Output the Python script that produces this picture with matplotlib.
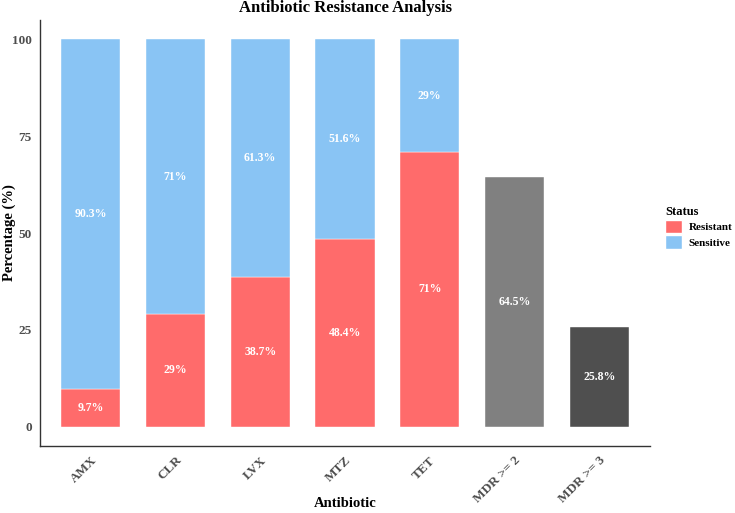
import numpy as np
import matplotlib.pyplot as plt
from matplotlib.patches import Patch

# chart data
antibiotics = ['AMX', 'CLR', 'LVX', 'MTZ', 'TET']
resistant = [9.7, 29.0, 38.7, 48.4, 71.0]
sensitive = [90.3, 71.0, 61.3, 51.6, 29.0]
mdr_labels = ['MDR >= 2', 'MDR >= 3']
mdr_values = [64.5, 25.8]

RES_COLOR = '#FF6B6B'
SEN_COLOR = '#89C4F4'
MDR_COLORS = ['#808080', '#4F4F4F']
TICK_GRAY = '#4D4D4D'

plt.rcParams['font.family'] = ['Liberation Serif', 'DejaVu Serif']
plt.rcParams['font.weight'] = 'bold'


def fmt(v):
    return f'{v:g}%'


def plot_chart():
    fig = plt.figure(figsize=(7.35, 5.13), dpi=100)
    ax = fig.add_axes([0.0544, 0.1306, 0.830, 0.8304])

    n = len(antibiotics)
    x = np.arange(n)
    width = 0.7

    ax.bar(x, resistant, width, color=RES_COLOR, edgecolor='white', linewidth=0.3)
    ax.bar(x, sensitive, width, bottom=resistant, color=SEN_COLOR, edgecolor='white', linewidth=0.3)
    for xi, r, s in zip(x, resistant, sensitive):
        ax.text(xi, r / 2, fmt(r), ha='center', va='center', color='white', fontsize=8.5, fontweight='bold')
        ax.text(xi, r + s / 2, fmt(s), ha='center', va='center', color='white', fontsize=8.5, fontweight='bold')

    xm = np.arange(n, n + len(mdr_values))
    ax.bar(xm, mdr_values, width, color=MDR_COLORS, edgecolor='white', linewidth=0.3)
    for xi, v in zip(xm, mdr_values):
        ax.text(xi, v / 2, fmt(v), ha='center', va='center', color='white', fontsize=8.5, fontweight='bold')

    ax.set_xlim(-0.6, n + len(mdr_values) - 0.4)
    ax.set_ylim(-5, 105)
    ax.set_yticks([0, 25, 50, 75, 100])
    ax.set_xticks(list(x) + list(xm))
    ax.set_xticklabels(antibiotics + mdr_labels, rotation=45, ha='right', rotation_mode='anchor')
    ax.tick_params(axis='both', length=0, colors=TICK_GRAY, labelsize=9.5)
    ax.tick_params(axis='x', pad=6)
    ax.tick_params(axis='y', pad=6)

    for side in ['top', 'right']:
        ax.spines[side].set_visible(False)
    for side in ['left', 'bottom']:
        ax.spines[side].set_color('#333333')
        ax.spines[side].set_linewidth(1.0)

    # axis titles placed in figure coordinates so they stay inside the canvas
    fig.text(0.0544 + 0.830 / 2, 0.018, 'Antibiotic', ha='center', va='center',
             fontsize=10.5, fontweight='bold')
    fig.text(0.012, 0.1306 + 0.8304 / 2, 'Percentage (%)', ha='center', va='center',
             rotation=90, fontsize=10.5, fontweight='bold')
    ax.set_title('Antibiotic Resistance Analysis', fontsize=12, fontweight='bold', pad=6)

    handles = [Patch(facecolor=RES_COLOR, edgecolor='white'), Patch(facecolor=SEN_COLOR, edgecolor='white')]
    fig.legend(handles, ['Resistant', 'Sensitive'], title='Status', loc='upper left',
               bbox_to_anchor=(0.905, 0.598), frameon=False, fontsize=8, title_fontsize=9,
               handlelength=1.5, handleheight=1.5, labelspacing=0.15, handletextpad=0.6,
               borderpad=0, borderaxespad=0, alignment='left')

    fig.savefig('out.png', dpi=100)


if __name__ == '__main__':
    plot_chart()
